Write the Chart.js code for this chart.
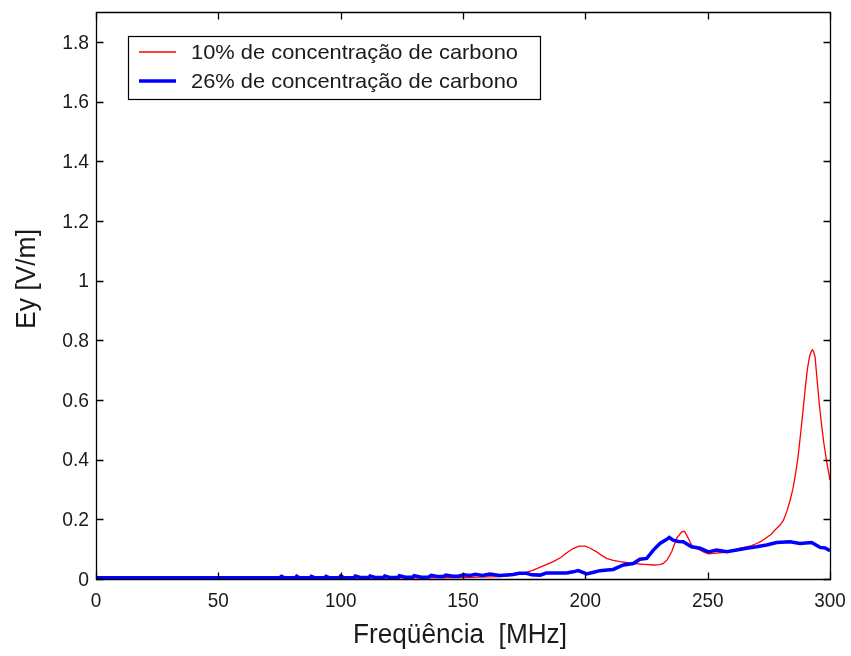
<!DOCTYPE html>
<html>
<head>
<meta charset="utf-8">
<script src="https://cdn.jsdelivr.net/npm/chart.js@4/dist/chart.umd.min.js"></script>
<style>
html,body{margin:0;padding:0;background:#fff;}
#c{display:block;}
</style>
</head>
<body>
<canvas id="c" width="851" height="656"></canvas>
<script>
// ---- data ----
const seriesLabels = ["10% de concentração de carbono", "26% de concentração de carbono"];
const xTicks = [0, 50, 100, 150, 200, 250, 300];
const xTickLabels = ["0", "50", "100", "150", "200", "250", "300"];
const yTicks = [0, 0.2, 0.4, 0.6, 0.8, 1, 1.2, 1.4, 1.6, 1.8];
const yTickLabels = ["0", "0.2", "0.4", "0.6", "0.8", "1", "1.2", "1.4", "1.6", "1.8"];
const xTitle = "Freqüência  [MHz]";
const yTitle = "Ey [V/m]";

const red10Freq = [0,50,100,130,150,160,165,170,175,178.7,183,186.9,190,192.4,195,197.5,200,202,204.6,206.5,208.7,211,214.2,219.6,224,227.8,230.5,231.9,233.5,235.3,237.3,239.4,240.5,241.4,242.5,243.4,245,246.9,248.5,250.3,252.5,255,258,260.5,263,265.9,268,270,272,274.1,276,277.5,279.5,281,282.5,283.7,284.8,285.7,286.8,287.7,288.8,289.8,290.7,291.6,292.3,292.8,293.3,293.9,294.7,295.6,296.5,297.5,298.7,300];
const red10Ey = [0.002,0.002,0.003,0.004,0.005,0.007,0.008,0.012,0.02,0.03,0.045,0.058,0.072,0.088,0.102,0.11,0.11,0.103,0.091,0.08,0.069,0.063,0.058,0.052,0.049,0.047,0.048,0.052,0.065,0.091,0.136,0.158,0.16,0.147,0.13,0.114,0.104,0.097,0.09,0.084,0.086,0.088,0.09,0.097,0.103,0.108,0.112,0.119,0.127,0.139,0.15,0.164,0.18,0.197,0.23,0.264,0.3,0.342,0.4,0.465,0.55,0.632,0.7,0.744,0.762,0.768,0.762,0.744,0.67,0.588,0.52,0.454,0.39,0.331];

const blue26Freq = [0,75,75.8,77,81.5,82,83.2,87.5,88,89.5,93.5,94,95.5,99.5,100,101.5,105.5,106,108,111.5,112,114,117.5,118,120,123.5,124,126.5,129.5,130,133,136,137,140,142,143,146,148,150,153,155,158,161,165,170.5,173,176,178,181.5,184,188,192.4,195,197.1,199,200.5,203,206,209,211.4,213.5,215.6,219.6,222.3,225.1,227.8,230.5,233.3,234.3,235.9,238,240,243.4,246.9,250.3,253.7,257.8,261.9,265.9,270,274.1,278.2,283.7,287.7,292.5,295.9,298,300];
const blue26Ey = [0.004,0.004,0.009,0.004,0.004,0.009,0.004,0.004,0.009,0.004,0.004,0.009,0.004,0.004,0.01,0.004,0.004,0.01,0.005,0.005,0.01,0.005,0.005,0.01,0.005,0.005,0.011,0.006,0.006,0.011,0.006,0.007,0.012,0.008,0.008,0.013,0.009,0.009,0.014,0.012,0.016,0.012,0.017,0.012,0.015,0.019,0.019,0.014,0.013,0.02,0.02,0.02,0.024,0.028,0.022,0.017,0.022,0.028,0.03,0.032,0.04,0.047,0.052,0.066,0.069,0.097,0.119,0.133,0.139,0.13,0.126,0.125,0.108,0.103,0.091,0.097,0.091,0.097,0.103,0.108,0.114,0.122,0.125,0.119,0.122,0.106,0.104,0.095];

const toPoints = (xs, ys) => xs.map((x, i) => ({x: x, y: ys[i]}));

const FONT = "'Liberation Sans', Arial, Helvetica, sans-serif";
const TXT = "#1a1a1a";

// draw text with a horizontal scale factor or squeezed to a target width
function fitText(ctx, text, x, y, targetW, align, sx) {
  const w = ctx.measureText(text).width;
  const s = targetW ? targetW / w : (sx || 1);
  ctx.save();
  ctx.translate(x, y);
  ctx.scale(s, 1);
  let dx = 0;
  if (align === 'center') dx = -w / 2;
  else if (align === 'right') dx = -w;
  ctx.textAlign = 'left';
  ctx.fillText(text, dx, 0);
  ctx.restore();
}

const matlabFrame = {
  id: 'matlabFrame',
  afterDatasetsDraw(chart) {
    const ctx = chart.ctx;
    const a = chart.chartArea;
    const xs = chart.scales.x, ys = chart.scales.y;
    const L = Math.round(a.left) + 0.5, R = Math.round(a.right) + 0.5;
    const T = Math.round(a.top) + 0.5, B = Math.round(a.bottom) + 0.5;
    ctx.save();
    ctx.strokeStyle = '#000';
    ctx.lineWidth = 1.3;
    ctx.beginPath();
    ctx.rect(L, T, R - L, B - T);
    ctx.stroke();
    const tl = 7;
    ctx.beginPath();
    xTicks.forEach(v => {
      const px = Math.round(xs.getPixelForValue(v)) + 0.5;
      ctx.moveTo(px, B); ctx.lineTo(px, B - tl);
      ctx.moveTo(px, T); ctx.lineTo(px, T + tl);
    });
    yTicks.forEach(v => {
      const py = Math.round(ys.getPixelForValue(v)) + 0.5;
      ctx.moveTo(L, py); ctx.lineTo(L + tl, py);
      ctx.moveTo(R, py); ctx.lineTo(R - tl, py);
    });
    ctx.stroke();

    // tick labels
    ctx.fillStyle = TXT;
    ctx.font = "21px " + FONT;
    ctx.textBaseline = 'middle';
    xTicks.forEach((v, i) => {
      const px = xs.getPixelForValue(v);
      fitText(ctx, xTickLabels[i], px, 601, null, 'center', 0.9);
    });
    yTicks.forEach((v, i) => {
      const py = ys.getPixelForValue(v);
      fitText(ctx, yTickLabels[i], 89, py + 1, null, 'right', 0.92);
    });

    // axis titles
    ctx.font = "27px " + FONT;
    ctx.textBaseline = 'middle';
    fitText(ctx, xTitle, 460, 636, 214, 'center');
    ctx.save();
    ctx.translate(28, 279);
    ctx.rotate(-Math.PI / 2);
    fitText(ctx, yTitle, 0, 0, 100, 'center');
    ctx.restore();

    // legend
    const lx = 128.5, ly = 36.5, lw = 412, lh = 63;
    ctx.fillStyle = '#fff';
    ctx.fillRect(lx, ly, lw, lh);
    ctx.strokeStyle = '#000';
    ctx.lineWidth = 1.2;
    ctx.strokeRect(lx, ly, lw, lh);
    const rows = [52, 81];
    chart.data.datasets.forEach((ds, i) => {
      ctx.strokeStyle = ds.borderColor;
      ctx.lineWidth = ds.borderWidth;
      ctx.beginPath();
      ctx.moveTo(139, rows[i]);
      ctx.lineTo(176, rows[i]);
      ctx.stroke();
      ctx.fillStyle = TXT;
      ctx.font = "21px " + FONT;
      ctx.textBaseline = 'middle';
      fitText(ctx, ds.label, 191, rows[i] + 1, 327, 'left');
    });
    ctx.restore();
  }
};

new Chart(document.getElementById('c'), {
  type: 'scatter',
  data: {
    datasets: [
      {
        label: seriesLabels[0],
        data: toPoints(red10Freq, red10Ey),
        showLine: true,
        borderColor: '#ff0000',
        borderWidth: 1.3,
        pointRadius: 0,
        tension: 0,
        order: 2
      },
      {
        label: seriesLabels[1],
        data: toPoints(blue26Freq, blue26Ey),
        showLine: true,
        borderColor: '#0000ff',
        borderWidth: 3.5,
        pointRadius: 0,
        tension: 0,
        order: 1
      }
    ]
  },
  options: {
    responsive: false,
    animation: false,
    devicePixelRatio: 1,
    layout: { padding: { left: 96, right: 21, top: 12, bottom: 77 } },
    plugins: { legend: { display: false }, tooltip: { enabled: false } },
    scales: {
      x: { type: 'linear', min: 0, max: 300, display: false },
      y: { type: 'linear', min: 0, max: 1.9, display: false }
    }
  },
  plugins: [matlabFrame]
});
</script>
</body>
</html>
